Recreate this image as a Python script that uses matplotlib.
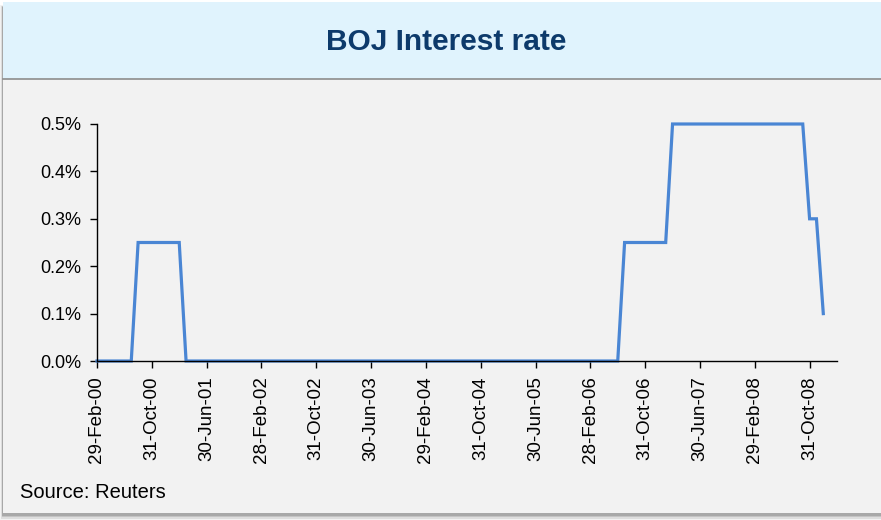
import matplotlib
matplotlib.use("Agg")
import matplotlib.pyplot as plt
from matplotlib.patches import Rectangle
import numpy as np

plt.rcParams['font.family'] = ['Liberation Sans', 'DejaVu Sans']

# Monthly BOJ rate (%), Feb-2000 .. Dec-2008
rate_2000 = [0.0, 0.0, 0.0, 0.0, 0.0, 0.0, 0.25, 0.25, 0.25, 0.25, 0.25]  # Feb-Dec
rate_2001 = [0.25, 0.25, 0.0, 0.0, 0.0, 0.0, 0.0, 0.0, 0.0, 0.0, 0.0, 0.0]
rate_2002 = [0.0, 0.0, 0.0, 0.0, 0.0, 0.0, 0.0, 0.0, 0.0, 0.0, 0.0, 0.0]
rate_2003 = [0.0, 0.0, 0.0, 0.0, 0.0, 0.0, 0.0, 0.0, 0.0, 0.0, 0.0, 0.0]
rate_2004 = [0.0, 0.0, 0.0, 0.0, 0.0, 0.0, 0.0, 0.0, 0.0, 0.0, 0.0, 0.0]
rate_2005 = [0.0, 0.0, 0.0, 0.0, 0.0, 0.0, 0.0, 0.0, 0.0, 0.0, 0.0, 0.0]
rate_2006 = [0.0, 0.0, 0.0, 0.0, 0.0, 0.0, 0.25, 0.25, 0.25, 0.25, 0.25, 0.25]
rate_2007 = [0.25, 0.5, 0.5, 0.5, 0.5, 0.5, 0.5, 0.5, 0.5, 0.5, 0.5, 0.5]
rate_2008 = [0.5, 0.5, 0.5, 0.5, 0.5, 0.5, 0.5, 0.5, 0.5, 0.3, 0.3, 0.1]

rates = (rate_2000 + rate_2001 + rate_2002 + rate_2003 + rate_2004 +
         rate_2005 + rate_2006 + rate_2007 + rate_2008)

tick_labels = ["29-Feb-00", "31-Oct-00", "30-Jun-01", "28-Feb-02", "31-Oct-02",
               "30-Jun-03", "29-Feb-04", "31-Oct-04", "30-Jun-05", "28-Feb-06",
               "31-Oct-06", "30-Jun-07", "29-Feb-08", "31-Oct-08"]
y_ticks = [0.0, 0.1, 0.2, 0.3, 0.4, 0.5]

W, H = 881, 520
fig = plt.figure(figsize=(W / 100, H / 100), dpi=100)
fig.patch.set_facecolor('white')

def px(x0, y0, x1, y1):
    # pixel box (top-left origin) -> figure fraction rect args
    return (x0 / W, 1 - y1 / H), (x1 - x0) / W, (y1 - y0) / H

# shadow
for i, a in enumerate([0.10, 0.18, 0.28, 0.40]):
    xy, w, h = px(0 + i * 0.8, 5 + i * 0.5, W, 520 - i * 1.5)
    fig.patches.append(Rectangle(xy, w, h, transform=fig.transFigure,
                                 facecolor='#808080', alpha=a, edgecolor='none', zorder=0))
# panel
xy, w, h = px(3, 2, W, 513)
fig.patches.append(Rectangle(xy, w, h, transform=fig.transFigure,
                             facecolor='#F2F2F2', edgecolor='none', zorder=1))
# title band
xy, w, h = px(3, 2, W, 79)
fig.patches.append(Rectangle(xy, w, h, transform=fig.transFigure,
                             facecolor='#E0F3FD', edgecolor='none', zorder=2))
fig.add_artist(plt.Line2D([3 / W, 1], [1 - 79 / H, 1 - 79 / H], transform=fig.transFigure,
                          color='#8C8C8C', lw=1.2, zorder=3))

fig.text(446 / W, 1 - 42 / H, "BOJ Interest rate", ha='center', va='center',
         fontsize=21.5, fontweight='bold', color='#0D3A6B', zorder=4)
fig.text(20 / W, 1 - 492 / H, "Source: Reuters", ha='left', va='center',
         fontsize=14.5, color='#000000', zorder=4)

ax = fig.add_axes([97 / W, 1 - 361 / H, (837 - 97) / W, (361 - 124) / H])
ax.set_facecolor('none')
ax.set_zorder(5)
x = np.arange(len(rates))
ax.plot(x, rates, color='#4A86D4', lw=2.3, solid_joinstyle='miter', clip_on=False)
ax.set_xlim(0, 108)
ax.set_ylim(0, 0.5)
ax.set_xticks(np.arange(0, 8 * len(tick_labels), 8))
ax.set_xticklabels(tick_labels, rotation=90, fontsize=13.5)
ax.set_yticks(y_ticks)
ax.set_yticklabels([f"{v:.1f}%" for v in y_ticks], fontsize=13)
for s in ['top', 'right']:
    ax.spines[s].set_visible(False)
for s in ['left', 'bottom']:
    ax.spines[s].set_color('#000000')
    ax.spines[s].set_linewidth(1.0)
ax.tick_params(axis='both', direction='out', length=5, width=1.0, color='#000000', pad=6)

fig.savefig("out.png", dpi=100)
